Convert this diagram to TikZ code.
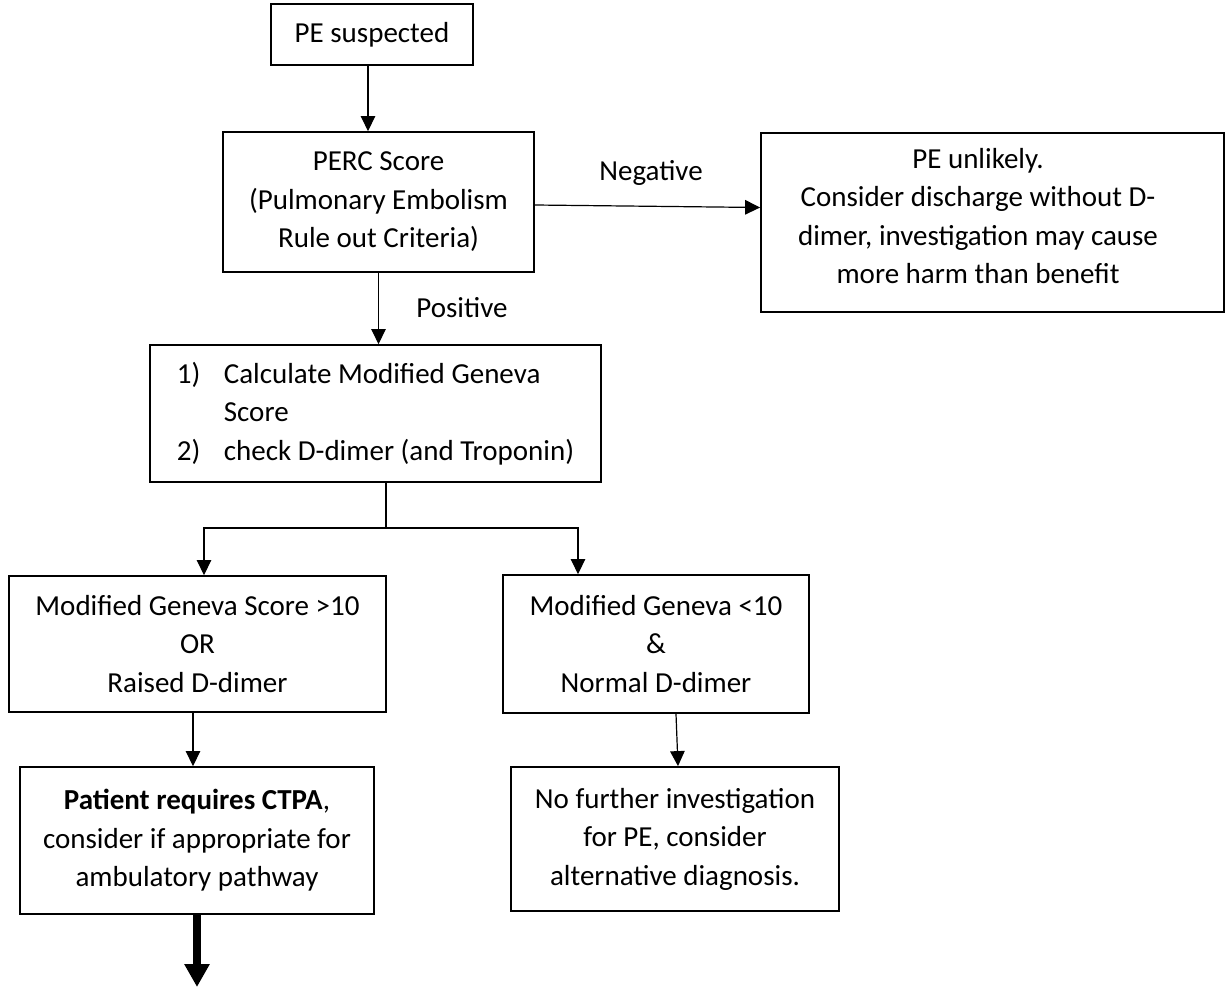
\documentclass[tikz,border=0pt]{standalone}
\usepackage{fontspec}
\setmainfont{Carlito}
\usetikzlibrary{arrows.meta}
\newcommand\figfs{\fontsize{29pt}{38.5pt}\selectfont}
\begin{document}
\begin{tikzpicture}[x=1pt,y=-1pt,
  box/.style={draw, line width=1.8pt, inner sep=0pt, align=center, font=\figfs},
  conn/.style={line width=1.2pt, -{Triangle[length=15pt,width=14.5pt]}},
  lbl/.style={font=\figfs, inner sep=0pt}]
\useasboundingbox (0,0) rectangle (1228,987);
\fill[white] (0,0) rectangle (1228,987);

\node[box, minimum width=202pt, minimum height=61pt] (pe) at (372,34.5) {PE suspected};
\node[box, minimum width=311pt, minimum height=140pt] (perc) at (378.5,202) {PERC Score\\(Pulmonary Embolism\\Rule out Criteria)};
\node[box, minimum width=463pt, minimum height=179pt] (unlikely) at (992.5,222.5) {};
\node[lbl, align=center] (unlikelytext) at (978,216) {PE unlikely.\\Consider discharge without D-\\dimer, investigation may cause\\more harm than benefit};
\node[box, align=left, minimum width=451pt, minimum height=137pt] (calc) at (375.5,413.5) {\makebox[47pt][l]{1)}Calculate Modified Geneva\\\hspace*{47pt}Score\\\makebox[47pt][l]{2)}check D-dimer (and Troponin)};
\node[box, minimum width=377pt, minimum height=136pt] (high) at (197.5,644) {Modified Geneva Score >10\\OR\\Raised D-dimer};
\node[box, minimum width=306pt, minimum height=138pt] (low) at (656,644) {Modified Geneva <10\\\&\\Normal D-dimer};
\node[box, minimum width=354pt, minimum height=147pt] (ctpa) at (197,840.5) {\textbf{Patient requires CTPA},\\consider if appropriate for\\ambulatory pathway};
\node[box, minimum width=328pt, minimum height=144pt] (noinv) at (675,839) {No further investigation\\for PE, consider\\alternative diagnosis.};

\node[lbl] (neg) at (651,173) {Negative};
\node[lbl] (pos) at (462,308) {Positive};

\draw[conn] ([xshift=-4pt]pe.south) -- ([xshift=-10.5pt]perc.north);
\draw[conn] ([yshift=-3pt]perc.east) -- ([yshift=15pt]unlikely.west);
\draw[conn] (perc.south) -- (perc.south |- calc.north);
\coordinate (split) at (386,528);
\draw[line width=1.2pt] ([xshift=10.5pt]calc.south) -- (split);
\draw[conn] (split) -| ([xshift=6.5pt]high.north);
\draw[conn] (split) -| ([xshift=-78pt]low.north);
\draw[conn] ([xshift=-4.5pt]high.south) -- ([xshift=-4pt]ctpa.north);
\draw[conn] ([xshift=20pt]low.south) -- ([xshift=3pt]noinv.north);
\coordinate (out) at (197,987);
\draw[line width=8pt, -{Triangle[length=23pt,width=24pt]}] (ctpa.south) -- (out);
\end{tikzpicture}
\end{document}
